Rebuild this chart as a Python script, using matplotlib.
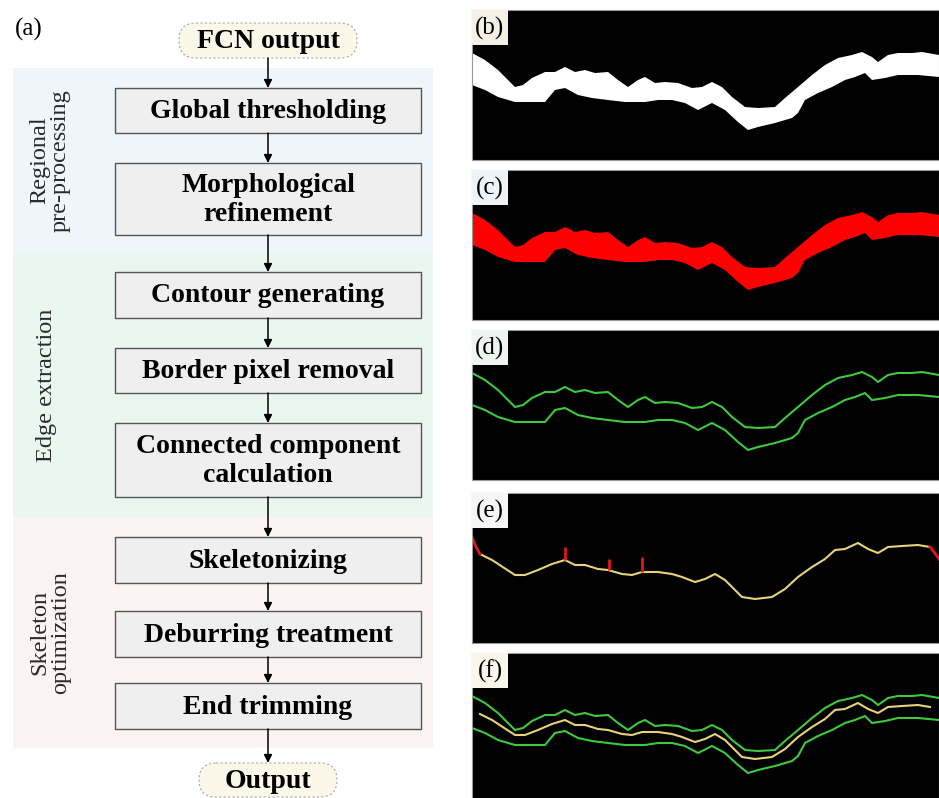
import matplotlib.pyplot as plt
from matplotlib.patches import FancyBboxPatch, Rectangle

plt.rcParams['font.family'] = ['Liberation Serif', 'DejaVu Serif']

W, H = 939, 798

# ---- flowchart content ----
start_label = 'FCN output'
end_label = 'Output'
steps = ['Global thresholding', 'Morphological\nrefinement', 'Contour generating',
         'Border pixel removal', 'Connected component\ncalculation', 'Skeletonizing',
         'Deburring treatment', 'End trimming']
stages = ['Regional\npre-processing', 'Edge extraction', 'Skeleton\noptimization']

# ---- traced profiles of the detected band (panel pixel units) ----
edge_top_x = [0, 13, 26, 43, 51, 60, 73, 83, 93, 103, 113, 123, 136, 146, 156, 166, 173,
              183, 193, 206, 220, 230, 240, 250, 260, 273, 286, 303, 313, 326, 340, 353,
              366, 380, 390, 400, 406, 416, 426, 440, 450, 467]
edge_top_y = [43, 50, 60, 77, 75, 68, 62, 62, 57, 62, 60, 63, 62, 70, 77, 70, 67,
              73, 72, 73, 78, 77, 72, 77, 87, 97, 98, 97, 88, 77, 65, 55,
              48, 45, 42, 47, 52, 45, 43, 43, 42, 45]
edge_bot_x = [0, 13, 26, 43, 73, 83, 93, 106, 120, 136, 153, 173, 186, 200, 213, 226, 240,
              253, 266, 276, 286, 303, 320, 326, 333, 346, 360, 373, 383, 393, 400, 413,
              426, 446, 467]
edge_bot_y = [75, 80, 87, 92, 92, 80, 78, 85, 88, 90, 92, 92, 90, 90, 93, 100, 93,
              100, 112, 120, 117, 113, 108, 103, 90, 83, 77, 70, 67, 63, 70, 68,
              65, 65, 67]

skel_x = [8, 20, 43, 53, 66, 80, 93, 103, 113, 126, 136, 150, 160, 170, 186, 200, 210,
          223, 233, 243, 253, 270, 283, 300, 313, 326, 340, 353, 363, 373, 386, 396,
          406, 416, 430, 446, 458]
skel_y = [61, 67, 82, 82, 77, 71, 67, 72, 72, 76, 77, 81, 82, 79, 79, 81, 84,
          89, 86, 81, 87, 104, 106, 104, 96, 84, 74, 66, 57, 56, 50, 56,
          60, 54, 53, 52, 54]
spur_start_x, spur_start_y = [0, 4, 8], [44, 54, 61]
spur_end_x, spur_end_y = [458, 462, 467], [54, 59, 66]
burr_x = [93, 137, 170]
burr_top = [54, 66, 64]
burr_bot = [67, 77, 79]

fig = plt.figure(figsize=(W / 100, H / 100), dpi=100)
ax = fig.add_axes([0, 0, 1, 1])
ax.set_xlim(0, W)
ax.set_ylim(H, 0)
ax.axis('off')

# stage backgrounds
stage_spans = [(68, 253), (253, 517), (517, 748)]
stage_colors = ['#eef6fb', '#eaf7f1', '#fcf3f3']
stage_label_x = [50, 47, 50]
for (y0, y1), c, lab, lx in zip(stage_spans, stage_colors, stages, stage_label_x):
    ax.add_patch(Rectangle((13, y0), 420, y1 - y0, facecolor=c, edgecolor='none', zorder=0))
    ax.text(lx, (y0 + y1) / 2, lab, rotation=90, ha='center', va='center',
            fontsize=17.5, linespacing=1.0, color='#2a2a2a')

# process boxes
cx = 268
box_x0, box_x1 = 115, 421
step_top = [88, 163, 272, 348, 423, 537, 611, 683]
step_bot = [133, 235, 318, 393, 497, 583, 657, 729]
for lab, t, b in zip(steps, step_top, step_bot):
    ax.add_patch(Rectangle((box_x0, t), box_x1 - box_x0, b - t, facecolor='#efefef',
                           edgecolor='#555555', lw=1.0, zorder=2))
    ax.text(cx, (t + b) / 2 + 1, lab, ha='center', va='center', fontsize=20,
            fontweight='bold', linespacing=1.2, zorder=3)

# start / end terminals
for lab, (x0, y0, w, h) in [(start_label, (179, 23, 178, 35)), (end_label, (199, 763, 138, 34))]:
    ax.add_patch(FancyBboxPatch((x0, y0), w, h,
                                boxstyle='round,pad=0,rounding_size=%d' % (h // 2),
                                facecolor='#fcf8e9', edgecolor='#aaaaaa', lw=0.8,
                                linestyle=(0, (2, 2)), zorder=2))
    ax.text(x0 + w / 2, y0 + h / 2 + 1, lab, ha='center', va='center', fontsize=20,
            fontweight='bold', zorder=3)

# arrows
arrow_from = [58] + step_bot
arrow_to = step_top + [763]
for y0, y1 in zip(arrow_from, arrow_to):
    ax.annotate('', xy=(cx, y1), xytext=(cx, y0),
                arrowprops=dict(arrowstyle='-|>', color='k', lw=1.1,
                                mutation_scale=12, shrinkA=0, shrinkB=0), zorder=4)

ax.text(15, 29, '(a)', ha='left', va='center', fontsize=18)

# ---- image panels ----
panel_x0, panel_w, panel_h = 472, 467, 150
panel_tops = [10, 170, 330, 493, 653]
panel_labels = ['(b)', '(c)', '(d)', '(e)', '(f)']
label_bg = ['#f4f0e5', '#eef3f8', '#eef5f1', '#f6f6f6', '#faf6ea']

green = '#3ec83e'
yellow = '#e6d27a'
band_x = edge_top_x + edge_bot_x[::-1]
band_y = edge_top_y + edge_bot_y[::-1]

pax = []
for top, lab, bg in zip(panel_tops, panel_labels, label_bg):
    p = fig.add_axes([panel_x0 / W, 1 - (top + panel_h) / H, panel_w / W, panel_h / H])
    p.set_facecolor('black')
    p.set_xlim(0, panel_w)
    p.set_ylim(panel_h, 0)
    p.set_xticks([])
    p.set_yticks([])
    for s in p.spines.values():
        s.set_color('#999999')
        s.set_linewidth(0.8)
    p.add_patch(Rectangle((0, 0), 36, 35, facecolor=bg, edgecolor='none', zorder=5))
    p.text(18, 18, lab, ha='center', va='center', fontsize=18, zorder=6)
    pax.append(p)

pax[0].fill(band_x, band_y, color='white', lw=0)
pax[1].fill(band_x, band_y, color='#ff0000', lw=0)
for p in (pax[2], pax[4]):
    p.plot(edge_top_x, edge_top_y, color=green, lw=1.5)
    p.plot(edge_bot_x, edge_bot_y, color=green, lw=1.5)
pax[3].plot(skel_x, skel_y, color=yellow, lw=1.5)
pax[3].plot(spur_start_x, spur_start_y, color='#e01818', lw=2)
pax[3].plot(spur_end_x, spur_end_y, color='#e01818', lw=2)
pax[3].vlines(burr_x, burr_top, burr_bot, color='#e01818', lw=2)
pax[4].plot(skel_x, skel_y, color=yellow, lw=1.5)

fig.savefig('out.png', dpi=100, facecolor='white')
